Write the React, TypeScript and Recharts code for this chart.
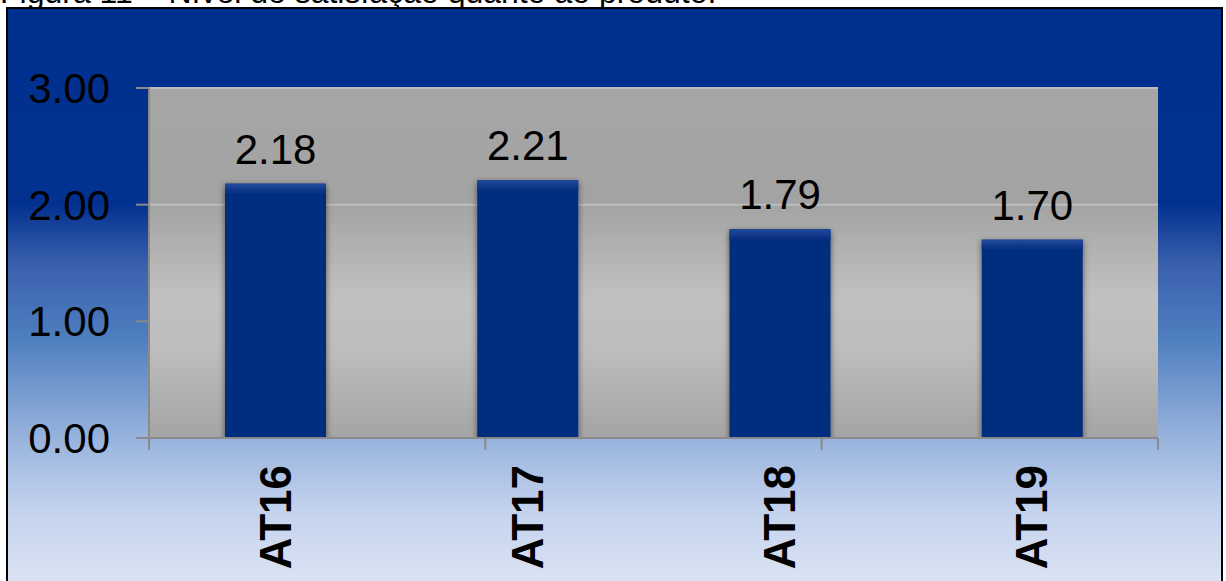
import React from 'react';
import { BarChart, Bar, XAxis, YAxis, CartesianGrid, LabelList } from 'recharts';

const categories = ['AT16', 'AT17', 'AT18', 'AT19'];
const values = [2.18, 2.21, 1.79, 1.7];
const yTicks = [0, 1, 2, 3];
const boundaryTicks = [0, 1, 2, 3, 4];
const titleText = 'Figura 11 – Nível de satisfação quanto ao produto.';

const data = categories.map((name, i) => ({ name, value: values[i] }));

const FONT = '"Liberation Sans", Arial, Helvetica, sans-serif';
const AXIS = '#8a8a8a';

const BarShape = (props: any) => {
  const { x, y, width, height } = props;
  if (!height || height <= 0) return null;
  return (
    <g filter="url(#barShadow)">
      <rect x={x} y={y} width={width} height={height} fill="#052d7f" />
      <rect x={x} y={y} width={width} height={Math.min(10, height)} fill="url(#barTop)" />
    </g>
  );
};

const XTick = (props: any) => {
  const { x, y, payload } = props;
  return (
    <text
      x={x}
      y={y}
      transform={`rotate(-90, ${x}, ${y})`}
      textAnchor="end"
      dominantBaseline="central"
      fontFamily={FONT}
      fontWeight="bold"
      fontSize={44}
      fill="#000"
    >
      {payload.value}
    </text>
  );
};

const EmptyTick = () => <g />;

export default function App() {
  return (
    <div style={{ position: 'absolute', left: 0, top: 0, width: 1226, height: 581, overflow: 'hidden', background: '#fff' }}>
      <svg width={1226} height={8} style={{ position: 'absolute', left: 0, top: 0, overflow: 'hidden' }}>
        <text x={0} y={3} fontFamily={FONT} fontSize={32} fill="#000">{titleText}</text>
      </svg>
      <div
        style={{
          position: 'absolute',
          left: 6,
          top: 7,
          width: 1217,
          height: 590,
          boxSizing: 'border-box',
          border: '2px solid #000',
          background:
            'linear-gradient(to bottom, #00308f 0px, #02318f 195px, #3a60ad 255px, #4f7fbf 330px, #95b1dc 425px, #c3d2ed 500px, #dbe3f3 572px)',
        }}
      >
        <BarChart
          width={1213}
          height={572}
          data={data}
          margin={{ top: 79, right: 63, bottom: 0, left: 0 }}
          barSize={101}
        >
          <defs>
            <linearGradient id="plotGrad" x1="0" y1="0" x2="0" y2="1">
              <stop offset="0" stopColor="#a6a6a6" />
              <stop offset="0.33" stopColor="#a3a3a3" />
              <stop offset="0.6" stopColor="#c1c1c1" />
              <stop offset="0.75" stopColor="#bdbdbd" />
              <stop offset="1" stopColor="#a4a4a4" />
            </linearGradient>
            <linearGradient id="barTop" x1="0" y1="0" x2="0" y2="1">
              <stop offset="0" stopColor="#224a9c" />
              <stop offset="1" stopColor="#052d7f" />
            </linearGradient>
            <filter id="barShadow" x="-20%" y="-10%" width="140%" height="120%">
              <feDropShadow dx="0" dy="2" stdDeviation="3" floodColor="#000" floodOpacity="0.55" />
            </filter>
          </defs>
          <CartesianGrid
            vertical={false}
            stroke="#bdbdbd"
            strokeWidth={2}
            fill="url(#plotGrad)"
            fillOpacity={1}
          />
          <XAxis
            xAxisId={0}
            type="number"
            domain={[0, 4]}
            ticks={boundaryTicks}
            allowDataOverflow
            height={1}
            tick={EmptyTick}
            tickSize={12}
            tickLine={{ stroke: AXIS, strokeWidth: 2 }}
            axisLine={{ stroke: AXIS, strokeWidth: 2 }}
            interval={0}
          />
          <XAxis
            xAxisId="cat"
            dataKey="name"
            height={142}
            axisLine={false}
            tickLine={false}
            tickSize={0}
            tickMargin={26}
            interval={0}
            tick={<XTick />}
          />
          <YAxis
            domain={[0, 3]}
            ticks={yTicks}
            interval={0}
            width={141}
            tickSize={13}
            tickMargin={26}
            tickFormatter={(v: number) => v.toFixed(2)}
            tick={{ fontSize: 42, fill: '#000', fontFamily: FONT }}
            tickLine={{ stroke: AXIS, strokeWidth: 2 }}
            axisLine={{ stroke: AXIS, strokeWidth: 2 }}
            allowDataOverflow
          />
          <Bar xAxisId="cat" dataKey="value" isAnimationActive={false} shape={<BarShape />}>
            <LabelList
              dataKey="value"
              position="top"
              offset={20}
              formatter={(v: any) => Number(v).toFixed(2)}
              style={{ fontSize: 42, fill: '#000', fontFamily: FONT }}
            />
          </Bar>
        </BarChart>
      </div>
    </div>
  );
}
